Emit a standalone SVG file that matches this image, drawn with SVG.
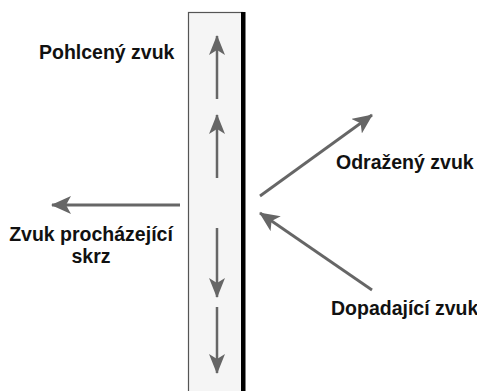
<svg xmlns="http://www.w3.org/2000/svg" width="477" height="391" viewBox="0 0 477 391">
  <defs>
    <marker id="head" markerUnits="userSpaceOnUse" viewBox="0 0 20 18" markerWidth="20" markerHeight="18" refX="19" refY="9" orient="auto">
      <path d="M0,0 L20,9 L0,18 L5,9 Z" fill="#666666"/>
    </marker>
    <marker id="headSmall" markerUnits="userSpaceOnUse" viewBox="0 0 20 16" markerWidth="20" markerHeight="16" refX="19" refY="8" orient="auto">
      <path d="M0,0 L20,8 L0,16 L5,8 Z" fill="#666666"/>
    </marker>
  </defs>
  <style>
    .lbl { font-family: "Liberation Sans", Arial, Helvetica, sans-serif; font-weight: bold; font-size: 19.5px; fill: #111111; }
    .ray { stroke: #666666; stroke-width: 2.8; fill: none; marker-end: url(#head); }
    .wave { stroke: #666666; stroke-width: 2.5; fill: none; marker-end: url(#headSmall); }
  </style>

  <rect width="477" height="391" fill="#ffffff"/>

  <!-- wall -->
  <g id="wall">
    <rect x="188.5" y="12.5" width="54" height="390" fill="#f5f5f5" stroke="#555555" stroke-width="1.2"/>
    <rect x="241" y="12" width="4.5" height="380" fill="#000000"/>
  </g>

  <!-- connectors -->
  <g id="connectors">
    <line class="wave" x1="217" y1="99" x2="217" y2="36"/>
    <line class="wave" x1="217" y1="178" x2="217" y2="115"/>
    <line class="wave" x1="217" y1="228" x2="217" y2="297"/>
    <line class="wave" x1="217" y1="307" x2="217" y2="373"/>
    <line class="ray" x1="372" y1="290" x2="260" y2="213"/>
    <line class="ray" x1="260" y1="196" x2="372" y2="115"/>
    <line class="ray" x1="180" y1="205" x2="52" y2="205"/>
  </g>

  <g id="absorbed">
    <text class="lbl" x="39" y="59">Pohlcený zvuk</text>
  </g>
  <g id="reflected">
    <text class="lbl" x="336" y="169">Odražený zvuk</text>
  </g>
  <g id="transmitted">
    <text class="lbl" x="91" y="241" text-anchor="middle">Zvuk procházející</text>
    <text class="lbl" x="91" y="263" text-anchor="middle">skrz</text>
  </g>
  <g id="incident">
    <text class="lbl" x="331" y="315">Dopadající zvuk</text>
  </g>
</svg>
